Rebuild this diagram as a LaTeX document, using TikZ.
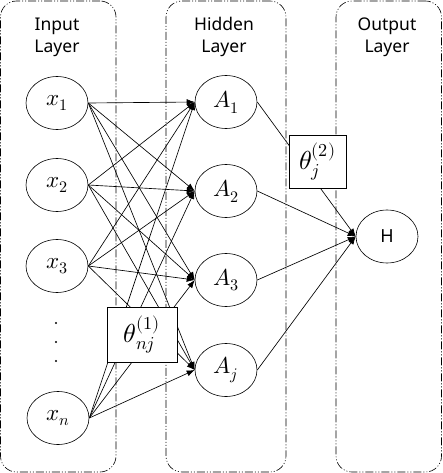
\documentclass[tikz,border=0pt]{standalone}
\usepackage{fontspec}
\usepackage{unicode-math}
\setmainfont{Noto Sans}
\setmathfont{latinmodern-math.otf}
\usetikzlibrary{arrows.meta,shapes.geometric}
\begin{document}
\begin{tikzpicture}[x=1pt,y=-1pt,
  layerbox/.style={draw, rectangle, rounded corners=16pt, line width=0.6pt,
    dash pattern=on 8pt off 2pt on 1pt off 2pt on 1pt off 2pt, inner sep=0pt},
  layertitle/.style={align=center, font=\fontsize{17.5}{22}\selectfont, inner sep=0pt},
  neuron/.style={draw, ellipse, line width=0.6pt, minimum width=62pt, minimum height=53pt,
    inner sep=0pt, font=\fontsize{23}{27}\selectfont},
  weightbox/.style={draw, fill=white, rectangle, line width=0.6pt, inner sep=0pt,
    font=\fontsize{26}{30}\selectfont},
  conn/.style={line width=0.65pt, -{Latex[length=8pt,width=6pt]}},
  dotmark/.style={circle, fill, inner sep=0pt, minimum size=2.2pt}
]
\useasboundingbox (0,0) rectangle (442,473);
% layer frames
\node (inbox)  [layerbox, minimum width=115.5pt, minimum height=471pt] at (58.25,236.5) {};
\node (hidbox) [layerbox, minimum width=120pt, minimum height=471pt] at (226,236.5) {};
\node (outbox) [layerbox, minimum width=105.5pt, minimum height=471pt] at (388.75,236.5) {};
% titles
\node (tin)  [layertitle] at (57,37) {Input\\Layer};
\node (thid) [layertitle] at (224,37) {Hidden\\Layer};
\node (tout) [layertitle] at (387,37) {Output\\Layer};
% neurons
\node (x1) [neuron] at (57,103) {$x_1$};
\node (x2) [neuron] at (57,185) {$x_2$};
\node (x3) [neuron] at (57,266) {$x_3$};
\node (xn) [neuron] at (58,418) {$x_n$};
\node (A1) [neuron] at (226,102) {$A_1$};
\node (A2) [neuron] at (226,191) {$A_2$};
\node (A3) [neuron] at (226,280) {$A_3$};
\node (Aj) [neuron] at (226,370) {$A_j$};
\node (H)  [neuron, font=\fontsize{18}{22}\selectfont] at (387,236.5) {H};
% dots
\node (d1) [dotmark] at (56,323) {};
\node (d2) [dotmark] at (56,342) {};
\node (d3) [dotmark] at (56,361) {};
% connections
\foreach \s in {x1,x2,x3,xn}{
  \foreach \t in {A1,A2,A3,Aj}{
    \draw[conn] (\s.east) -- (\t.west);
  }
}
\foreach \t in {A1,A2,A3,Aj}{
  \draw[conn] (\t.east) -- (H.west);
}
% weight labels
\node (w1) [weightbox, minimum width=70pt, minimum height=55pt] at (142,334.5) {$\theta^{(1)}_{nj}$};
\node (w2) [weightbox, minimum width=57pt, minimum height=53pt] at (317.5,161.5) {$\theta^{(2)}_{j}$};
\end{tikzpicture}
\end{document}
